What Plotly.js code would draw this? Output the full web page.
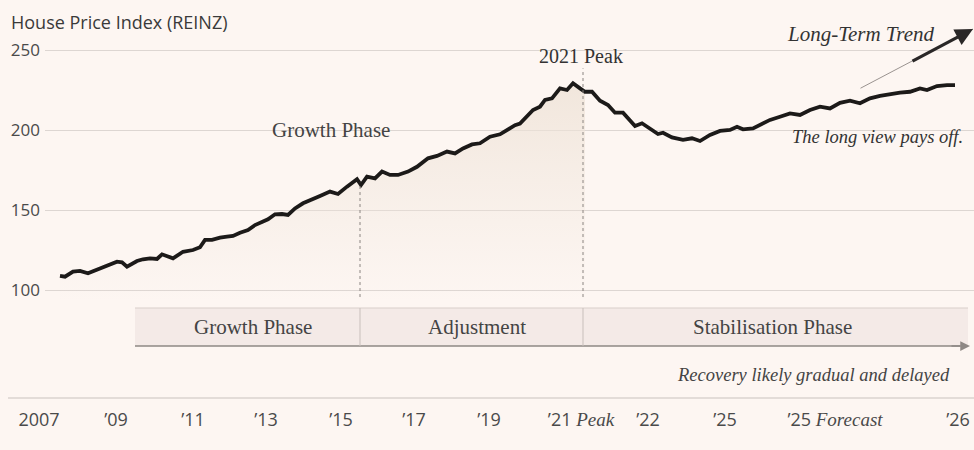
<!DOCTYPE html>
<html>
<head>
<meta charset="utf-8">
<script src="https://cdn.plot.ly/plotly-3.0.1.min.js"></script>
<style>
  html, body { margin: 0; padding: 0; background: #fdf6f2; }
  #chart { width: 974px; height: 450px; }
</style>
</head>
<body>
<div id="chart"></div>
<script>
// Timeline position (arbitrary stylised time scale)
const timeline = [
  6.0, 6.5, 7.3, 8.0, 8.8, 9.7, 10.7, 11.7, 12.2, 12.7, 13.7, 14.3, 15.0, 15.7, 16.2, 16.7, 17.3,
  18.3, 19.3, 20.0, 20.5, 21.2, 22.0, 22.7, 23.3, 24.0, 24.8, 25.5, 26.2, 26.8, 27.5, 28.2, 28.8,
  29.5, 30.3, 31.0, 32.0, 33.0, 33.8, 34.7, 35.7, 36.1, 36.7, 37.5, 38.2, 39.0, 39.8, 40.8, 41.7,
  42.8, 43.7, 44.7, 45.5, 46.3, 47.2, 48.0, 49.0, 50.0, 50.7, 51.5, 52.0, 52.7, 53.3, 54.0, 54.5,
  55.2, 56.0, 56.7, 57.3, 58.0, 58.5, 59.2, 60.0, 60.8, 61.5, 62.3, 63.0, 63.5, 64.2, 65.0, 65.8,
  66.3, 67.2, 68.3, 69.2, 70.0, 71.0, 72.0, 73.0, 73.7, 74.3, 75.3, 76.3, 77.0, 78.0, 79.0, 80.0,
  81.0, 82.0, 83.0, 84.0, 85.0, 86.0, 87.0, 88.0, 89.0, 90.0, 91.0, 92.0, 92.7, 93.7, 94.7, 95.5
];
// House Price Index (REINZ)
const hpi = [
  108.8, 108.3, 111.5, 111.9, 110.4, 112.5, 115.0, 117.7, 117.3, 114.6, 118.1, 119.2, 119.8, 119.4, 122.3, 121.3, 119.8,
  123.9, 125.0, 126.7, 131.3, 131.3, 132.7, 133.3, 133.8, 135.8, 137.5, 140.6, 142.7, 144.2, 147.3, 147.5, 146.9,
  151.0, 154.2, 156.3, 158.8, 161.5, 160.0, 164.6, 169.2, 165.6, 170.8, 169.8, 174.0, 171.9, 171.9, 174.0, 177.0,
  182.3, 183.8, 186.5, 185.4, 188.5, 191.0, 191.7, 195.8, 197.3, 200.0, 203.0, 204.0, 208.3, 212.5, 214.6, 218.8,
  219.8, 226.0, 225.0, 229.2, 226.0, 223.9, 223.9, 218.3, 215.6, 210.8, 210.8, 206.3, 202.5, 204.2, 201.0, 197.5,
  198.3, 195.4, 193.8, 194.8, 193.1, 196.9, 199.4, 200.0, 202.0, 200.4, 201.0, 204.2, 206.3, 208.3, 210.4, 209.4,
  212.5, 214.6, 213.5, 217.0, 218.3, 216.7, 219.8, 221.3, 222.5, 223.3, 223.9, 226.0, 225.0, 227.5, 228.1, 228.1
];
const yTicks = [100, 150, 200, 250];
const xTickPos = [3.9, 11.6, 19.3, 26.6, 34.1, 41.4, 48.9, 58.1, 64.8, 72.5, 83.5, 95.8];
const serifIt = '<span style="font-family:Liberation Serif;font-style:italic;font-size:19px">';
const xTickLabels = ['2007', '’09', '’11', '’13', '’15', '’17', '’19',
  '’21 ' + serifIt + 'Peak</span>', '’22', '’25', '’25 ' + serifIt + 'Forecast</span>', '’26'];
const phaseNames = ['Growth Phase', 'Adjustment', 'Stabilisation Phase'];
const phaseCenters = [25.3, 47.7, 77.2];
const phaseBounds = [13.5, 36.0, 58.3, 96.8];
const peakIndex = 70; // last point of the shaded area (around the 2021 peak)

const BG = '#fdf6f2';
const SERIF = 'Liberation Serif';
const SANS = 'Open Sans';

const fillX = timeline.slice(0, peakIndex + 1);
const fillY = hpi.slice(0, peakIndex + 1);

const traces = [
  {
    x: fillX, y: fillY, type: 'scatter', mode: 'lines',
    line: {width: 0}, fill: 'tozeroy',
    fillgradient: {type: 'vertical', start: 92, stop: 232,
      colorscale: [[0, 'rgba(240,230,220,0.0)'], [1, 'rgba(238,226,214,0.8)']]},
    hoverinfo: 'skip', showlegend: false
  },
  {
    x: timeline, y: hpi, type: 'scatter', mode: 'lines',
    line: {color: '#1c1a19', width: 3.8, shape: 'linear'},
    showlegend: false
  },
  {
    x: [50], y: [0], xaxis: 'x2', yaxis: 'y2', type: 'scatter', mode: 'markers',
    marker: {opacity: 0}, hoverinfo: 'skip', showlegend: false
  }
];

const bandY0 = (450 - 346) / 450, bandY1 = (450 - 308) / 450;
const shapes = [
  {type: 'rect', xref: 'x', yref: 'paper', x0: phaseBounds[0], x1: phaseBounds[3], y0: bandY0, y1: bandY1,
   fillcolor: '#f4eae7', line: {width: 0}, layer: 'below'},
  {type: 'line', xref: 'x', yref: 'paper', x0: phaseBounds[0], x1: phaseBounds[3], y0: bandY1, y1: bandY1,
   line: {color: '#d8cfcb', width: 1}},
  {type: 'line', xref: 'x', yref: 'paper', x0: phaseBounds[0], x1: 96.0, y0: bandY0, y1: bandY0,
   line: {color: '#8e8885', width: 1.5}},
  {type: 'line', xref: 'x', yref: 'paper', x0: phaseBounds[1], x1: phaseBounds[1], y0: bandY0, y1: bandY1,
   line: {color: '#c8bfbb', width: 1}},
  {type: 'line', xref: 'x', yref: 'paper', x0: phaseBounds[2], x1: phaseBounds[2], y0: bandY0, y1: bandY1,
   line: {color: '#c8bfbb', width: 1}},
  {type: 'line', xref: 'x', yref: 'y', x0: phaseBounds[1], x1: phaseBounds[1], y0: 95.6, y1: 167,
   line: {color: '#8a8480', width: 1, dash: '3px,3px'}},
  {type: 'line', xref: 'x', yref: 'y', x0: phaseBounds[2], x1: phaseBounds[2], y0: 95.6, y1: 238.5,
   line: {color: '#8a8480', width: 1, dash: '3px,3px'}}
];

const py = p => (450 - p) / 450;
const px = p => p / 974;

function label(text, x, y, font, opts) {
  return Object.assign({text: text, xref: 'paper', yref: 'paper', x: px(x), y: py(y),
    xanchor: 'center', yanchor: 'middle', showarrow: false, font: font}, opts || {});
}

const annotations = [
  label('House Price Index (REINZ)', 9, 22, {family: SANS, size: 18, color: '#3a3a3a'}, {xanchor: 'left'}),
  label('Growth Phase', 331, 130, {family: SERIF, size: 21, color: '#444'}),
  label('2021 Peak', 581, 56, {family: SERIF, size: 20, color: '#333'}),
  label('<i>Long-Term Trend</i>', 861, 34, {family: SERIF, size: 21, color: '#333'}),
  label('<i>The long view pays off.</i>', 877, 137, {family: SERIF, size: 18.5, color: '#333'}),
  label('<i>Recovery likely gradual and delayed</i>', 813, 375, {family: SERIF, size: 18.5, color: '#444'}),
  // long-term trend arrow: thin tail + thick head
  {text: '', xref: 'paper', yref: 'paper', x: px(973), y: py(29), ax: -114, ay: 60,
   showarrow: true, arrowhead: 0, arrowwidth: 1, arrowcolor: '#9a9390', standoff: 0},
  {text: '', xref: 'paper', yref: 'paper', x: px(973), y: py(29), ax: -62, ay: 33,
   showarrow: true, arrowhead: 2, arrowsize: 1.1, arrowwidth: 3.2, arrowcolor: '#2a2727', standoff: 0},
  // band arrowhead
  {text: '', xref: 'x', yref: 'paper', x: 97.0, y: bandY0, ax: -20, ay: 0,
   showarrow: true, arrowhead: 2, arrowsize: 1.3, arrowwidth: 1.5, arrowcolor: '#8e8885', standoff: 0}
];
for (let i = 0; i < phaseNames.length; i++) {
  annotations.push({
    text: phaseNames[i], xref: 'x', yref: 'paper',
    x: phaseCenters[i], y: py(327), xanchor: 'center', yanchor: 'middle', showarrow: false,
    font: {family: SERIF, size: 21, color: '#444'}
  });
}

const layout = {
  width: 974, height: 450,
  margin: {l: 0, r: 0, t: 0, b: 0},
  paper_bgcolor: BG, plot_bgcolor: 'rgba(0,0,0,0)',
  showlegend: false,
  xaxis: {domain: [45 / 974, 1], range: [4.5, 97.4], visible: false, fixedrange: true},
  yaxis: {domain: [py(300), py(20)], range: [93.75, 268.75], tickvals: yTicks,
    showgrid: true, gridcolor: '#ddd6d2', gridwidth: 1, zeroline: false, showline: false,
    ticks: '', ticklabelstandoff: 4, fixedrange: true,
    tickfont: {family: SANS, size: 17, color: '#4a4a4a'}},
  xaxis2: {domain: [8 / 974, 1], range: [0.8, 97.4], anchor: 'free', position: py(397), side: 'bottom',
    showline: true, linecolor: '#e3dcd8', linewidth: 1.5, showgrid: false, zeroline: false,
    ticks: '', tickvals: xTickPos, ticktext: xTickLabels, ticklabelstandoff: 6, fixedrange: true,
    tickfont: {family: SANS, size: 18, color: '#4a4a4a'}},
  yaxis2: {domain: [0, 0.05], range: [-1, 1], visible: false, anchor: 'x2', fixedrange: true},
  shapes: shapes,
  annotations: annotations
};

Plotly.newPlot('chart', traces, layout, {displayModeBar: false, staticPlot: true});
</script>
</body>
</html>
